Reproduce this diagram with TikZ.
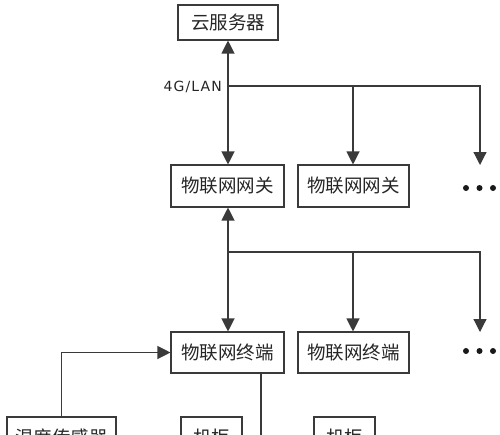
\documentclass[tikz,border=0pt]{standalone}
\usepackage{fontspec}
\newfontfamily\cjk{Noto Sans CJK SC}
\newfontfamily\lat[LetterSpace=8]{DejaVu Sans}
\usetikzlibrary{arrows.meta}
\definecolor{ln}{HTML}{3A3A3A}
\tikzset{
  box/.style={draw=ln, line width=1.1pt, rectangle, inner sep=0pt, font=\cjk\fontsize{18.5}{18.5}\selectfont, text=black!85},
  conn/.style={draw=ln, line width=1.2pt},
  tip/.tip={Triangle[length=13pt,width=13pt]},
  arr/.style={conn, -tip},
  dot/.style={fill=black!90, circle, inner sep=0pt, minimum size=6pt}
}
\begin{document}
\begin{tikzpicture}[x=1pt,y=-1pt]
\clip (0,0) rectangle (500,434);
\fill[white] (0,0) rectangle (500,434);
% nodes
\node[box, minimum width=100pt, minimum height=35pt] (cloud) at (228,22.5) {云服务器};
\node[box, minimum width=113pt, minimum height=42pt] (gw1) at (227.5,186) {物联网网关};
\node[box, minimum width=111pt, minimum height=42pt] (gw2) at (353.5,186) {物联网网关};
\node[box, minimum width=113pt, minimum height=41pt] (t1) at (227.5,352.5) {物联网终端};
\node[box, minimum width=111pt, minimum height=41pt] (t2) at (353.5,352.5) {物联网终端};
\node[box, minimum width=109pt, minimum height=40pt] (sensor) at (61.5,437) {温度传感器};
\node[box, minimum width=61pt, minimum height=40pt] (cab1) at (211.5,437) {机柜};
\node[box, minimum width=61pt, minimum height=40pt] (cab2) at (344.5,437) {机柜};
\node[anchor=east, font=\lat\fontsize{14}{14}\selectfont, text=black!85, inner sep=0pt] (lan) at (222,87) {4G/LAN};
% dots
\node[dot] (d1a) at (466,188) {};
\node[dot] (d1b) at (479.5,188) {};
\node[dot] (d1c) at (493,188) {};
\node[dot] (d2a) at (466,351) {};
\node[dot] (d2b) at (479.5,351) {};
\node[dot] (d2c) at (493,351) {};
% coordinates
\coordinate (j1) at (228,86);
\coordinate (e1) at (480,165);
\coordinate (j2) at (228,252);
\coordinate (e2) at (480,332);
\coordinate (t1b) at (261,373);
\coordinate (t1end) at (261,440);
% connectors
\draw[conn, tip-tip] (cloud.south -| j1) -- (gw1.north -| j1);
\draw[arr] (j1) -| (gw2.north -| 353,0);
\draw[arr] (j1) -| (e1);
\draw[conn, tip-tip] (gw1.south -| j2) -- (t1.north -| j2);
\draw[arr] (j2) -| (t2.north -| 353,0);
\draw[arr] (j2) -| (e2);
\draw[arr] (sensor.north) |- (t1.west);
\draw[conn] (t1b) -- (t1end);
\end{tikzpicture}
\end{document}
